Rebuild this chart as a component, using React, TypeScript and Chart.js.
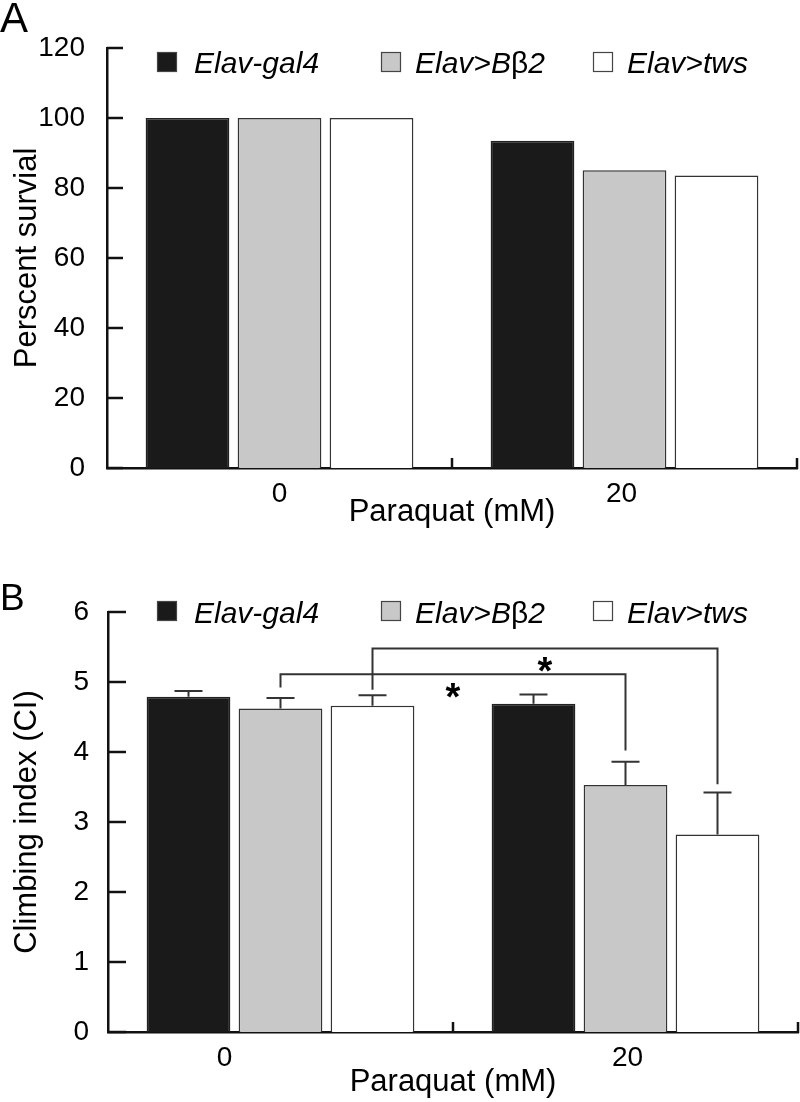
import React, { useEffect, useRef } from "react";
import { Chart, registerables } from "chart.js";

Chart.register(...registerables);

// ---------------- data ----------------
const categories = ["0", "20"];
const seriesNames = ["Elav-gal4", "Elav>Bβ2", "Elav>tws"];

const survivalGal4 = [100, 93.5];
const survivalBb2 = [100, 85.1];
const survivalTws = [100, 83.6];
const survivalTicks = [0, 20, 40, 60, 80, 100, 120];

const climbGal4 = [4.79, 4.69];
const climbBb2 = [4.62, 3.53];
const climbTws = [4.66, 2.82];
const climbGal4Err = [0.08, 0.13];
const climbBb2Err = [0.15, 0.33];
const climbTwsErr = [0.15, 0.6];
const climbTicks = [0, 1, 2, 3, 4, 5, 6];

const bracketSeries = [1, 2];
const bracketLevels = [5.11, 5.48];
const bracketLeftEnds = [4.92, 4.89];
const bracketRightEnds = [4.02, 3.54];
const bracketMarks = ["*", "*"];

// ---------------- styles ----------------
const FONT = "'Liberation Sans', Arial, Helvetica, sans-serif";
const FILLS = ["#1a1a1a", "#c8c8c8", "#ffffff"];
const EDGE = "#333333";
const AXIS = "#111111";

type Spec = {
  id: string;
  height: number;
  yTitle: string;
  yMin: number;
  yMax: number;
  yTicks: number[];
  series: number[][];
  errors?: number[][];
  brackets?: boolean;
  yAxisWidth: number;
  rightPad: number;
  yTickPad: number;
  yTickLen: number;
  xAxisHeight: number;
  xTitlePadBottom: number;
  xLabelShift: number[];
  legendTop: number;
  legendBaseline: number;
  letter: string;
  letterSize: number;
  letterBaseline: number;
};

const legendSquareX = [157, 381, 593];
const legendTextX = [194, 415, 627];

function drawName(ctx: CanvasRenderingContext2D, name: string, x: number, y: number) {
  const parts = name.split(/(β)/);
  let cx = x;
  for (const p of parts) {
    if (!p) continue;
    ctx.font = p === "β" ? `30px ${FONT}` : `italic 30px ${FONT}`;
    ctx.fillText(p, cx, y);
    cx += ctx.measureText(p).width;
  }
}

function makePlugin(spec: Spec) {
  return {
    id: "decor-" + spec.id,
    afterDatasetsDraw(chart: any) {
      const ctx: CanvasRenderingContext2D = chart.ctx;
      const y = chart.scales.y;
      ctx.save();
      ctx.strokeStyle = EDGE;
      ctx.lineWidth = 2;
      if (spec.errors) {
        spec.errors.forEach((errs, i) => {
          const meta = chart.getDatasetMeta(i);
          errs.forEach((e, j) => {
            const bar = meta.data[j];
            const top = y.getPixelForValue(spec.series[i][j] + e);
            ctx.beginPath();
            ctx.moveTo(bar.x, bar.y);
            ctx.lineTo(bar.x, top);
            ctx.moveTo(bar.x - 14, top);
            ctx.lineTo(bar.x + 14, top);
            ctx.stroke();
          });
        });
      }
      if (spec.brackets) {
        bracketSeries.forEach((s, k) => {
          const meta = chart.getDatasetMeta(s);
          const x1 = meta.data[0].x;
          const x2 = meta.data[1].x;
          const yl = y.getPixelForValue(bracketLevels[k]);
          ctx.beginPath();
          ctx.moveTo(x1, y.getPixelForValue(bracketLeftEnds[k]));
          ctx.lineTo(x1, yl);
          ctx.lineTo(x2, yl);
          ctx.lineTo(x2, y.getPixelForValue(bracketRightEnds[k]));
          ctx.stroke();
          ctx.fillStyle = "#000";
          ctx.font = `bold 38px ${FONT}`;
          ctx.textAlign = "center";
          ctx.textBaseline = "alphabetic";
          ctx.fillText(bracketMarks[k], (x1 + x2) / 2, yl + 14 + 21.5);
        });
      }
      ctx.restore();
    },
    afterDraw(chart: any) {
      const ctx: CanvasRenderingContext2D = chart.ctx;
      const { left, right, bottom } = chart.chartArea;
      const x = chart.scales.x;
      const y = chart.scales.y;
      ctx.save();
      ctx.strokeStyle = AXIS;
      ctx.lineWidth = 2.5;
      // inward y ticks
      y.ticks.forEach((t: any) => {
        const py = y.getPixelForValue(t.value);
        ctx.beginPath();
        ctx.moveTo(left, py);
        ctx.lineTo(left + spec.yTickLen, py);
        ctx.stroke();
      });
      // inward x ticks at category boundaries
      const p0 = x.getPixelForValue(0);
      const p1 = x.getPixelForValue(1);
      const half = (p1 - p0) / 2;
      [p0 + half, Math.min(p1 + half, right)].forEach((px) => {
        ctx.beginPath();
        ctx.moveTo(px, bottom + 1);
        ctx.lineTo(px, bottom - 10);
        ctx.stroke();
      });
      // x tick labels
      ctx.fillStyle = "#000";
      ctx.font = `28px ${FONT}`;
      ctx.textAlign = "center";
      ctx.textBaseline = "alphabetic";
      categories.forEach((c, i) => {
        ctx.fillText(c, x.getPixelForValue(i) + spec.xLabelShift[i], bottom + 34);
      });
      // legend
      ctx.textAlign = "left";
      seriesNames.forEach((n, i) => {
        ctx.fillStyle = FILLS[i];
        ctx.fillRect(legendSquareX[i], spec.legendTop, 20, 20);
        ctx.lineWidth = 1.2;
        ctx.strokeStyle = "#444";
        ctx.strokeRect(legendSquareX[i] + 0.5, spec.legendTop + 0.5, 19, 19);
        ctx.fillStyle = "#000";
        drawName(ctx, n, legendTextX[i], spec.legendBaseline);
      });
      // panel letter
      ctx.font = `${spec.letterSize}px ${FONT}`;
      ctx.fillStyle = "#000";
      ctx.fillText(spec.letter, 0, spec.letterBaseline);
      ctx.restore();
    },
  };
}

function Panel({ spec }: { spec: Spec }) {
  const ref = useRef<HTMLCanvasElement | null>(null);
  useEffect(() => {
    const canvas = ref.current;
    if (!canvas) return;
    const chart = new Chart(canvas, {
      type: "bar",
      data: {
        labels: categories,
        datasets: spec.series.map((d, i) => ({
          label: seriesNames[i],
          data: d,
          backgroundColor: FILLS[i],
          borderColor: i === 0 ? "#222" : EDGE,
          borderWidth: 1.5,
          barPercentage: 0.91,
          categoryPercentage: 0.8,
        })),
      },
      options: {
        animation: false,
        responsive: false,
        devicePixelRatio: 1,
        events: [],
        layout: { padding: { top: 48, right: spec.rightPad, left: 0, bottom: 0 } },
        plugins: { legend: { display: false }, tooltip: { enabled: false } },
        scales: {
          x: {
            type: "category",
            z: 1,
            grid: { display: false },
            border: { display: true, color: AXIS, width: 2.5 },
            ticks: { display: false },
            title: {
              display: true,
              text: "Paraquat (mM)",
              color: "#000",
              font: { family: FONT, size: 31 },
              padding: { top: 0, bottom: spec.xTitlePadBottom },
            },
            afterFit: (s: any) => {
              s.height = spec.xAxisHeight;
            },
          },
          y: {
            min: spec.yMin,
            max: spec.yMax,
            z: 1,
            grid: { display: false },
            border: { display: true, color: AXIS, width: 2.5 },
            afterBuildTicks: (s: any) => {
              s.ticks = spec.yTicks.map((v) => ({ value: v }));
            },
            ticks: {
              color: "#000",
              font: { family: FONT, size: 28 },
              padding: spec.yTickPad,
              callback: (v: any) => String(v),
            },
            title: {
              display: true,
              text: spec.yTitle,
              color: "#000",
              font: { family: FONT, size: 31 },
              padding: { top: 8.5, bottom: 0 },
            },
            afterFit: (s: any) => {
              s.width = spec.yAxisWidth;
            },
          },
        },
      },
      plugins: [makePlugin(spec)],
    } as any);
    return () => chart.destroy();
  }, []);
  return (
    <canvas
      ref={ref}
      width={800}
      height={spec.height}
      style={{ display: "block", width: 800, height: spec.height }}
    />
  );
}

const specA: Spec = {
  id: "A",
  height: 564,
  yTitle: "Perscent survial",
  yMin: 0,
  yMax: 120,
  yTicks: survivalTicks,
  series: [survivalGal4, survivalBb2, survivalTws],
  yAxisWidth: 107,
  rightPad: 3,
  yTickPad: 14,
  yTickLen: 16,
  xAxisHeight: 96,
  xTitlePadBottom: 33.4,
  xLabelShift: [0, -3],
  legendTop: 52,
  legendBaseline: 73,
  letter: "A",
  letterSize: 42,
  letterBaseline: 32,
};

const specB: Spec = {
  id: "B",
  height: 538,
  yTitle: "Climbing index (CI)",
  yMin: 0,
  yMax: 6,
  yTicks: climbTicks,
  series: [climbGal4, climbBb2, climbTws],
  errors: [climbGal4Err, climbBb2Err, climbTwsErr],
  brackets: true,
  yAxisWidth: 108,
  rightPad: 2,
  yTickPad: 11,
  yTickLen: 18,
  xAxisHeight: 70,
  xTitlePadBottom: 1.4,
  xLabelShift: [-56, 2],
  legendTop: 37,
  legendBaseline: 59,
  letter: "B",
  letterSize: 37,
  letterBaseline: 46,
};

export default function App() {
  return (
    <div
      style={{
        position: "absolute",
        left: 0,
        top: 0,
        width: 800,
        height: 1102,
        background: "#fff",
        overflow: "hidden",
      }}
    >
      <Panel spec={specA} />
      <Panel spec={specB} />
    </div>
  );
}
